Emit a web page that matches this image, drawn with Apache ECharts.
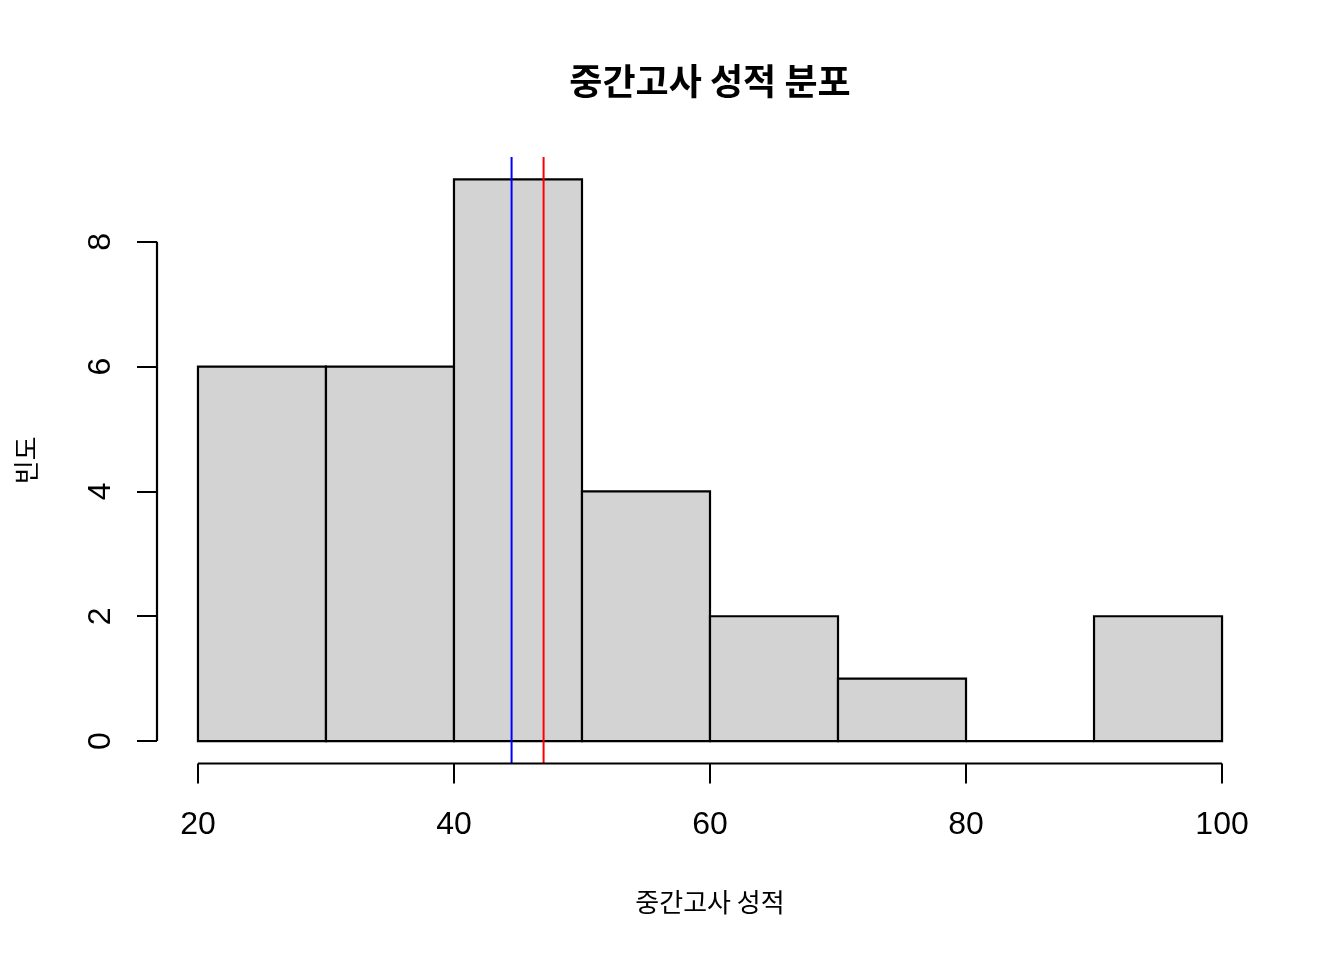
<!DOCTYPE html>
<html>
<head>
<meta charset="utf-8">
<script src="https://cdn.jsdelivr.net/npm/echarts@6/dist/echarts.min.js"></script>
<style>html,body{margin:0;padding:0;background:#fff}#chart{width:1344px;height:960px}</style>
</head>
<body>
<div id="chart"></div>
<script>
// Histogram bins (left edge, right edge) and counts
const binStarts = [20, 30, 40, 50, 60, 70, 80, 90];
const binEnds   = [30, 40, 50, 60, 70, 80, 90, 100];
const counts    = [6, 6, 9, 4, 2, 1, 0, 2];
const xTicks = [20, 40, 60, 80, 100];
const yTicks = [0, 2, 4, 6, 8];
const medianScore = 44.5;
const meanScore = 47.0;
const titleText = '중간고사 성적 분포';
const xTitle = '중간고사 성적';
const yTitle = '빈도';

// R-style 4% axis extension
const xLo = 20, xHi = 100, yLo = 0, yHi = 9;
const xPad = (xHi - xLo) * 0.04, yPad = (yHi - yLo) * 0.04;
const xMin = xLo - xPad, xMax = xHi + xPad, yMin = yLo - yPad, yMax = yHi + yPad;

const bars = binStarts.map((s, i) => [s, binEnds[i], counts[i]]);
const numFont = 'Liberation Sans, Arial, sans-serif';
const krFont = '"Noto Sans CJK KR", sans-serif';

const chart = echarts.init(document.getElementById('chart'));
chart.setOption({
  animation: false,
  backgroundColor: '#ffffff',
  title: {
    text: titleText, left: 705, top: 58, textAlign: 'center',
    textStyle: { fontFamily: krFont, fontWeight: 'bold', fontSize: 36, color: '#000' }
  },
  grid: { left: 157, right: 81, top: 157, bottom: 196.5, outerBoundsMode: 'none', containLabel: false },
  xAxis: {
    type: 'value', min: xMin, max: xMax,
    name: xTitle, nameLocation: 'middle', nameGap: 126,
    nameTextStyle: { fontFamily: krFont, fontSize: 26, color: '#000' },
    axisLine: { show: false, onZero: false },
    splitLine: { show: false },
    axisTick: { show: true, customValues: xTicks, length: 20, lineStyle: { color: '#000', width: 2 } },
    axisLabel: { customValues: xTicks, margin: 46, fontFamily: numFont, fontSize: 32, color: '#000' }
  },
  yAxis: {
    type: 'value', min: yMin, max: yMax,
    name: yTitle, nameLocation: 'middle', nameGap: 118, nameRotate: 90,
    nameTextStyle: { fontFamily: krFont, fontSize: 26, color: '#000' },
    axisLine: { show: false, onZero: false },
    splitLine: { show: false },
    axisTick: { show: true, customValues: yTicks, length: 20, lineStyle: { color: '#000', width: 2 } },
    axisLabel: { customValues: yTicks, rotate: 90, margin: 40, fontFamily: numFont, fontSize: 32, color: '#000' }
  },
  series: [
    {
      type: 'custom', clip: false,
      data: bars,
      renderItem: function (params, api) {
        const p1 = api.coord([api.value(0), api.value(2)]);
        const p2 = api.coord([api.value(1), 0]);
        return {
          type: 'rect',
          shape: { x: p1[0], y: p1[1], width: p2[0] - p1[0], height: p2[1] - p1[1] },
          style: { fill: '#D3D3D3', stroke: '#000', lineWidth: 2.2 }
        };
      }
    },
    {
      type: 'custom', clip: false,
      data: [[medianScore, 0], [meanScore, 1]],
      renderItem: function (params, api) {
        const colors = ['#0000FF', '#FF0000'];
        const a = api.coord([api.value(0), yMin]);
        const b = api.coord([api.value(0), yMax]);
        return {
          type: 'line',
          shape: { x1: a[0], y1: a[1], x2: b[0], y2: b[1] },
          style: { stroke: colors[api.value(1)], lineWidth: 2 }
        };
      }
    },
    {
      // axis lines spanning first to last tick (R style)
      type: 'custom', clip: false, silent: true,
      data: [[0], [1]],
      renderItem: function (params, api) {
        let a, b;
        if (api.value(0) === 0) {
          a = api.coord([xTicks[0], yMin]);
          b = api.coord([xTicks[xTicks.length - 1], yMin]);
        } else {
          a = api.coord([xMin, yTicks[0]]);
          b = api.coord([xMin, yTicks[yTicks.length - 1]]);
        }
        return {
          type: 'line',
          shape: { x1: a[0], y1: a[1], x2: b[0], y2: b[1] },
          style: { stroke: '#000', lineWidth: 2.2 }
        };
      }
    }
  ]
});
</script>
</body>
</html>
